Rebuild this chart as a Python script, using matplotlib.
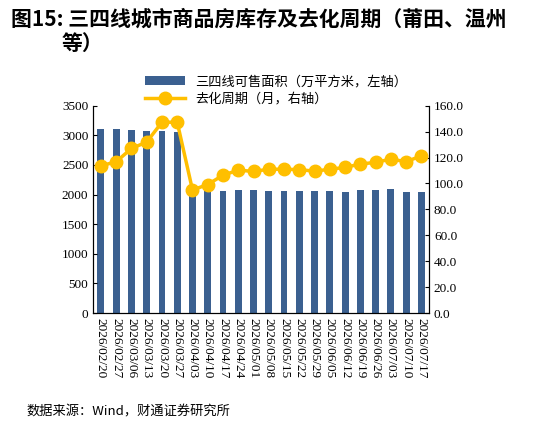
import matplotlib
matplotlib.use("Agg")
import matplotlib.pyplot as plt
import numpy as np

plt.rcParams['font.family'] = ['Noto Sans CJK SC', 'DejaVu Sans']

dates = ["2026/02/20","2026/02/27","2026/03/06","2026/03/13","2026/03/20","2026/03/27",
         "2026/04/03","2026/04/10","2026/04/17","2026/04/24","2026/05/01","2026/05/08",
         "2026/05/15","2026/05/22","2026/05/29","2026/06/05","2026/06/12","2026/06/19",
         "2026/06/26","2026/07/03","2026/07/10","2026/07/17"]
stock = [3100,3100,3085,3070,3070,3055,2005,2070,2068,2070,2070,2060,
         2055,2055,2055,2055,2045,2070,2070,2100,2050,2040]
cycle = [113.6,116.8,127,132,147.3,147.3,95,99.2,106.4,110.3,109.3,111,
         111,110.7,109.5,111,112.4,115,116.3,118.8,116.8,121.4]

fig = plt.figure(figsize=(5.33,4.23), dpi=100)
ax = fig.add_axes([0.175,0.26,0.63,0.49])
ax2 = ax.twinx()
x = np.arange(len(dates))
ax.bar(x, stock, width=0.45, color='#3b6090', label='三四线可售面积（万平方米，左轴）')
ax2.plot(x, cycle, color='#ffbf00', lw=2.5, marker='o', ms=9, label='去化周期（月，右轴）')
ax.set_ylim(0,3500); ax.set_yticks(range(0,3501,500))
ax2.set_ylim(0,160); ax2.set_yticks(range(0,161,20))
ax2.set_yticklabels([f"{v:.1f}" for v in range(0,161,20)])
ax.set_xlim(-0.5,len(dates)-0.5)
ax.set_xticks(x); ax.set_xticklabels(dates, rotation=270, fontsize=9, family='Liberation Serif')
for a in (ax, ax2):
    a.spines['top'].set_visible(False)
    a.tick_params(labelsize=9.5, direction='in', length=3)
    for lab in a.get_yticklabels(): lab.set_family('Liberation Serif')
ax.tick_params(axis='x', length=0)
h1,l1 = ax.get_legend_handles_labels(); h2,l2 = ax2.get_legend_handles_labels()
fig.legend(h1+h2, l1+l2, loc='upper left', bbox_to_anchor=(0.25,0.85), frameon=False, fontsize=9.5,
           handlelength=3, labelspacing=0.3)
fig.text(0.02,0.955,"图15: 三四线城市商品房库存及去化周期（莆田、温州", fontsize=15, weight='bold', va='center')
fig.text(0.115,0.898,"等）", fontsize=15, weight='bold', va='center')
fig.text(0.05,0.025,"数据来源：Wind，财通证券研究所", fontsize=9.5, va='center')
fig.savefig("out.png", dpi=100)
